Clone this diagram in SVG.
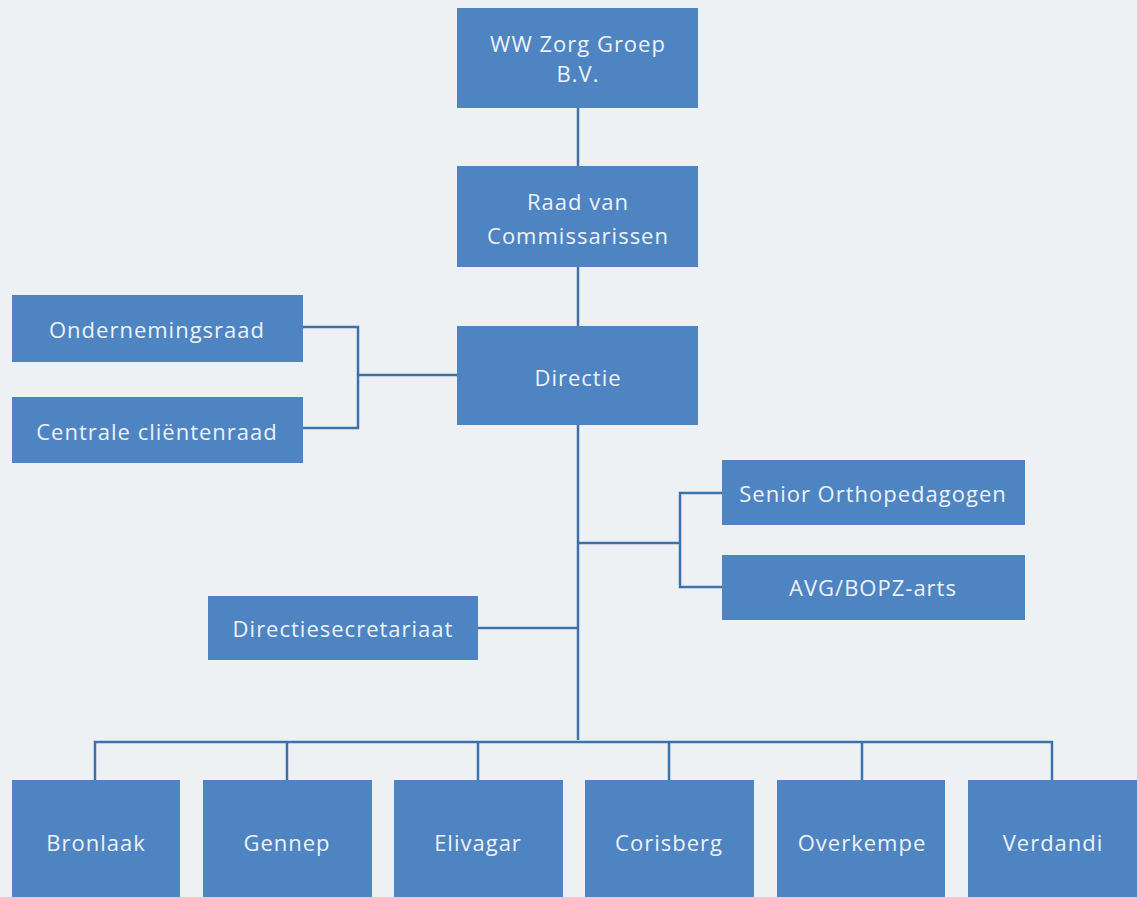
<svg xmlns="http://www.w3.org/2000/svg" width="1137" height="897" viewBox="0 0 1137 897">
<style>
.box{fill:#4d84c1;}
.lbl{font-family:"Open Sans","Liberation Sans",sans-serif;font-size:22px;letter-spacing:1px;fill:#eef2f7;text-anchor:middle;dominant-baseline:central;}
.ln{stroke:#3c71ab;stroke-width:2.5;fill:none;}
</style>
<rect width="1137" height="897" fill="#eef1f4"/>
<g id="connectors">
<path class="ln" d="M578 108V166"/>
<path class="ln" d="M578 267V326"/>
<path class="ln" d="M578 425V740"/>
<path class="ln" d="M303 327H358V428H303M358 375H457"/>
<path class="ln" d="M578 543H680M722 493H680V587H722"/>
<path class="ln" d="M478 628H578"/>
<path class="ln" d="M95 780V742H1052V780M287 742V780M478 742V780M669 742V780M862 742V780"/>
</g>
<g id="n-wwzorg"><rect class="box" x="457" y="8" width="241" height="100"/><text class="lbl" x="578" y="43">WW Zorg Groep</text><text class="lbl" x="578" y="73">B.V.</text></g>
<g id="n-raad"><rect class="box" x="457" y="166" width="241" height="101"/><text class="lbl" x="578" y="201">Raad van</text><text class="lbl" x="578" y="235">Commissarissen</text></g>
<g id="n-directie"><rect class="box" x="457" y="326" width="241" height="99"/><text class="lbl" x="578" y="377">Directie</text></g>
<g id="n-or"><rect class="box" x="12" y="295" width="291" height="67"/><text class="lbl" x="157" y="329">Ondernemingsraad</text></g>
<g id="n-ccr"><rect class="box" x="12" y="397" width="291" height="66"/><text class="lbl" x="157" y="431">Centrale cliëntenraad</text></g>
<g id="n-senior"><rect class="box" x="722" y="460" width="303" height="65"/><text class="lbl" x="873" y="493">Senior Orthopedagogen</text></g>
<g id="n-avg"><rect class="box" x="722" y="555" width="303" height="65"/><text class="lbl" x="873" y="587">AVG/BOPZ-arts</text></g>
<g id="n-secr"><rect class="box" x="208" y="596" width="270" height="64"/><text class="lbl" x="343" y="628">Directiesecretariaat</text></g>
<g id="n-bronlaak"><rect class="box" x="12" y="780" width="168" height="117"/><text class="lbl" x="96" y="842">Bronlaak</text></g>
<g id="n-gennep"><rect class="box" x="203" y="780" width="169" height="117"/><text class="lbl" x="287" y="842">Gennep</text></g>
<g id="n-elivagar"><rect class="box" x="394" y="780" width="169" height="117"/><text class="lbl" x="478" y="842">Elivagar</text></g>
<g id="n-corisberg"><rect class="box" x="585" y="780" width="169" height="117"/><text class="lbl" x="669" y="842">Corisberg</text></g>
<g id="n-overkempe"><rect class="box" x="777" y="780" width="168" height="117"/><text class="lbl" x="862" y="842">Overkempe</text></g>
<g id="n-verdandi"><rect class="box" x="968" y="780" width="169" height="117"/><text class="lbl" x="1053" y="842">Verdandi</text></g>
</svg>
